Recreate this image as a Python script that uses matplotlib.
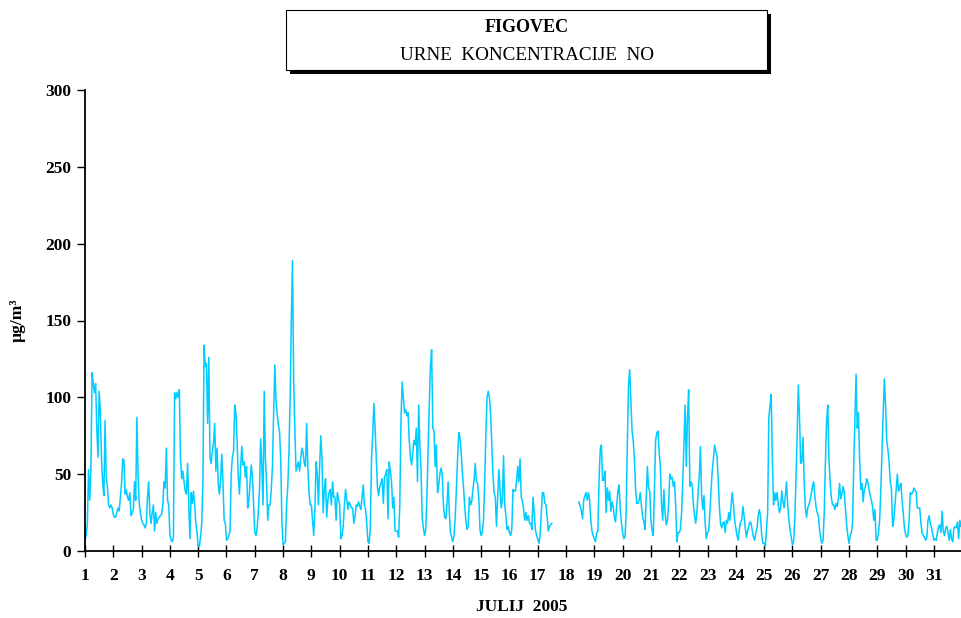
import numpy as np
import matplotlib
matplotlib.use("Agg")
import matplotlib.pyplot as plt
from matplotlib.patches import Rectangle

# Hourly NO concentrations (µg/m3), July 2005, one list per day (24 hours)
d01 = [7, 10, 18, 53, 33, 53, 116, 109, 103, 109, 80, 61, 104, 91, 60, 44, 36, 85, 48, 42, 30, 28, 30, 28]
d02 = [24, 22, 22, 25, 28, 26, 35, 44, 60, 59, 37, 40, 35, 33, 38, 23, 25, 27, 45, 33, 87, 50, 31, 25]
d03 = [20, 18, 17, 15, 18, 35, 45, 25, 18, 25, 30, 13, 25, 18, 21, 22, 23, 24, 30, 45, 41, 67, 33, 30]
d04 = [11, 7, 6, 9, 103, 99, 103, 100, 105, 60, 47, 52, 45, 39, 37, 57, 31, 8, 38, 31, 39, 30, 18, 12]
d05 = [3, 3, 9, 18, 44, 134, 120, 122, 83, 126, 61, 57, 65, 70, 83, 52, 67, 44, 37, 46, 63, 45, 20, 18]
d06 = [7, 8, 10, 13, 50, 61, 65, 95, 90, 72, 48, 37, 55, 68, 56, 58, 48, 55, 28, 33, 45, 56, 48, 30]
d07 = [12, 10, 15, 25, 40, 73, 55, 30, 104, 60, 45, 20, 30, 30, 40, 55, 90, 121, 98, 89, 82, 78, 60, 20]
d08 = [4, 5, 6, 30, 42, 65, 100, 150, 189, 110, 79, 52, 55, 58, 52, 60, 67, 64, 57, 55, 83, 55, 38, 30]
d09 = [30, 20, 10, 28, 58, 50, 30, 55, 75, 60, 25, 40, 47, 22, 33, 38, 40, 30, 45, 35, 35, 20, 38, 34]
d10 = [30, 8, 10, 16, 30, 40, 34, 27, 32, 30, 28, 28, 18, 22, 30, 29, 32, 29, 27, 35, 43, 30, 27, 18]
d11 = [6, 5, 15, 60, 75, 96, 81, 62, 42, 36, 42, 44, 47, 31, 48, 50, 53, 21, 58, 52, 45, 28, 35, 13]
d12 = [13, 13, 9, 30, 85, 110, 100, 90, 92, 88, 90, 72, 61, 56, 64, 72, 69, 80, 45, 95, 70, 53, 22, 15]
d13 = [10, 14, 35, 65, 95, 120, 131, 80, 78, 55, 69, 38, 43, 50, 54, 50, 30, 22, 21, 30, 45, 25, 12, 9]
d14 = [6, 10, 22, 40, 60, 77, 74, 65, 52, 42, 30, 20, 14, 16, 35, 30, 32, 40, 46, 57, 45, 44, 35, 14]
d15 = [10, 12, 20, 45, 75, 100, 104, 100, 90, 70, 50, 38, 35, 16, 35, 53, 40, 28, 33, 62, 30, 23, 14, 16]
d16 = [12, 10, 14, 40, 39, 39, 45, 55, 45, 60, 35, 33, 27, 20, 25, 20, 23, 18, 18, 14, 35, 25, 14, 10]
d17 = [8, 5, 10, 25, 38, 38, 31, 30, 22, 13, 16, 17, 18,
       None, None, None, None, None, None, None, None, None, None, None]
d18 = [None, None, None, None, None, None, None, None, None, None, None,
       32, 29, 26, 21, 33, 36, 38, 33, 38, 33, 20, 13, 10]
d19 = [8, 6, 12, 13, 46, 66, 69, 46, 46, 52, 25, 41, 33, 39, 26, 32, 29, 22, 19, 30, 39, 43, 27, 18]
d20 = [12, 8, 9, 25, 70, 108, 118, 98, 78, 72, 60, 40, 31, 31, 33, 38, 29, 22, 19, 14, 35, 55, 41, 39]
d21 = [20, 13, 10, 40, 72, 77, 78, 64, 55, 30, 20, 40, 25, 17, 20, 30, 50, 47, 48, 42, 45, 30, 6, 12]
d22 = [12, 14, 25, 45, 70, 95, 55, 87, 105, 42, 45, 43, 30, 23, 18, 25, 38, 48, 68, 36, 27, 36, 18, 8]
d23 = [12, 13, 25, 40, 52, 60, 69, 65, 62, 48, 30, 18, 15, 18, 19, 12, 20, 18, 25, 20, 30, 38, 30, 20]
d24 = [15, 10, 7, 14, 19, 20, 29, 23, 15, 9, 13, 16, 19, 18, 13, 9, 7, 12, 15, 23, 27, 22, 10, 5]
d25 = [5, 3, 14, 25, 87, 94, 102, 60, 30, 38, 33, 38, 30, 25, 28, 39, 32, 28, 36, 45, 30, 20, 14, 9]
d26 = [4, 6, 20, 45, 75, 108, 88, 57, 58, 74, 45, 28, 22, 28, 30, 33, 37, 42, 45, 36, 29, 25, 23, 14]
d27 = [8, 5, 7, 25, 58, 85, 95, 60, 45, 35, 30, 30, 27, 31, 29, 34, 44, 34, 37, 42, 38, 27, 17, 10]
d28 = [5, 10, 12, 18, 55, 85, 115, 80, 90, 60, 40, 44, 32, 40, 42, 47, 45, 40, 36, 33, 29, 20, 27, 7]
d29 = [7, 12, 20, 40, 65, 90, 112, 95, 72, 66, 58, 45, 40, 16, 20, 30, 40, 50, 39, 42, 44, 33, 25, 15]
d30 = [11, 9, 10, 20, 38, 37, 38, 41, 40, 38, 28, 28, 28, 18, 12, 10, 9, 7, 9, 20, 23, 18, 15, 11]
d31 = [7, 8, 7, 12, 16, 17, 12, 26, 13, 10, 15, 16, 12, 7, 14, 8, 6, 15, 16, 15, 19, 8, 20, 16]

day_labels = [str(d) for d in range(1, 32)]
y_ticks = [0, 50, 100, 150, 200, 250, 300]

days = [d01, d02, d03, d04, d05, d06, d07, d08, d09, d10, d11, d12, d13, d14, d15, d16,
        d17, d18, d19, d20, d21, d22, d23, d24, d25, d26, d27, d28, d29, d30, d31]
values = np.array([np.nan if v is None else v for d in days for v in d], dtype=float)
hours = np.arange(len(values))

FONT = "Liberation Serif"
plt.rcParams["font.family"] = [FONT, "DejaVu Serif"]

W, H = 962, 618
fig = plt.figure(figsize=(W / 100, H / 100), dpi=100)
ax = fig.add_axes([85 / W, 1 - 551 / H, (961 - 85) / W, (551 - 90) / H])

ax.plot(hours, values, color="#00CCFF", lw=1.1)

ax.set_xlim(0, 743)
ax.set_ylim(0, 300)
ax.set_xticks(np.arange(0, 31 * 24, 24))
ax.set_xticklabels(day_labels, fontsize=12.5, fontweight="bold")
ax.set_yticks(y_ticks)
ax.set_yticklabels([str(v) for v in y_ticks], fontsize=12.5, fontweight="bold")
ax.tick_params(axis="x", direction="inout", length=9, width=1.0, pad=8)
ax.tick_params(axis="y", direction="out", length=6, width=1.0, pad=4)
for s in ["top", "right"]:
    ax.spines[s].set_visible(False)
for s in ["left", "bottom"]:
    ax.spines[s].set_linewidth(1.3)

fig.text(522 / W, 1 - 607 / H, "JULIJ  2005", ha="center", va="center",
         fontsize=12.5, fontweight="bold")
fig.text(18 / W, 1 - 320 / H, "µg/m³", ha="center", va="center", rotation=90,
         fontsize=12.5, fontweight="bold")

# title box with shadow
bx0, bx1, by0, by1 = 286, 767, 10, 70
off = 4
fig.patches.append(Rectangle(((bx0 + off) / W, 1 - (by1 + off) / H), (bx1 - bx0) / W, (by1 - by0) / H,
                             transform=fig.transFigure, facecolor="black", edgecolor="black", lw=0, zorder=1))
fig.patches.append(Rectangle((bx0 / W, 1 - by1 / H), (bx1 - bx0) / W, (by1 - by0) / H,
                             transform=fig.transFigure, facecolor="white", edgecolor="black", lw=0.8, zorder=2))
fig.text(527 / W, 1 - 28 / H, "FIGOVEC", ha="center", va="center", fontsize=13, fontweight="bold", zorder=3)
fig.text(527 / W, 1 - 55 / H, "URNE  KONCENTRACIJE  NO", ha="center", va="center", fontsize=13.8, zorder=3)

fig.savefig("out.png", dpi=100)
